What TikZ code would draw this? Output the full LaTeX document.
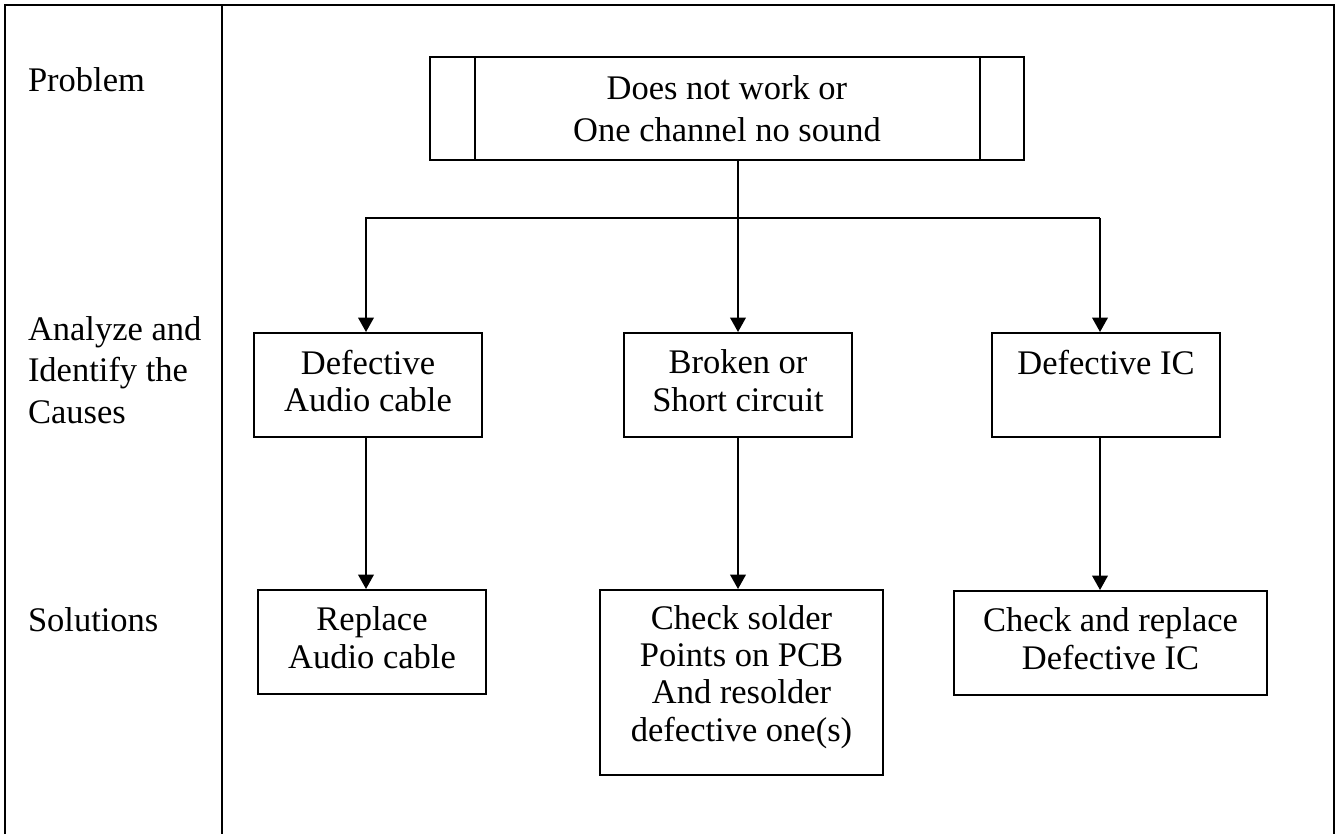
\documentclass[tikz,border=0pt]{standalone}
\usepackage{fontspec}
\setmainfont{Liberation Serif}
\usetikzlibrary{arrows.meta}
\newcommand{\pxu}{0.3478pt}

\begin{document}
\begin{tikzpicture}[x=\pxu, y=-\pxu, line width=0.7pt,
    >={Triangle[length=5pt, width=5.4pt]},
    font=\fontsize{12}{12.9}\selectfont,
    box/.style = {draw, align=center, inner sep=0pt, text depth=3.1pt},
    rowname/.style = {anchor=base west, align=left, inner sep=0pt, font=\fontsize{12}{14.4}\selectfont}]
    \useasboundingbox (0,0) rectangle (1340,834);

    % frame and column line
    \draw (5,834) -- (5,5) -- (1334,5) -- (1334,834);
    \draw (222,5) -- (222,834);

    \node[rowname] (lprob) at (27,91) {Problem};
    \node[rowname] (lcause) at (27,423) {Analyze and\\Identify the\\Causes};
    \node[rowname] (lsol) at (27,631) {Solutions};

    \node[box, text depth=0pt, font=\fontsize{12}{14.4}\selectfont, minimum width={594*\pxu}, minimum height={103*\pxu}] (prob) at (727,108.5) {Does not work or\\One channel no sound};
    \draw ([xshift={46*\pxu}]prob.north west) -- ([xshift={46*\pxu}]prob.south west);
    \draw ([xshift={-45*\pxu}]prob.north east) -- ([xshift={-45*\pxu}]prob.south east);

    \node[box, minimum width={228*\pxu}, minimum height={104*\pxu}] (cause1) at (368,385) {Defective\\Audio cable};
    \node[box, minimum width={228*\pxu}, minimum height={104*\pxu}] (cause2) at (738,385) {Broken or\\Short circuit};
    \node[box, minimum width={228*\pxu}, minimum height={104*\pxu}] (cause3) at (1106,385) {Defective IC\\~};

    \node[box, minimum width={228*\pxu}, minimum height={104*\pxu}] (sol1) at (372,642) {Replace\\Audio cable};
    \node[box, text depth=6.3pt, minimum width={283*\pxu}, minimum height={185*\pxu}] (sol2) at (741.5,682.5) {Check solder\\Points on PCB\\And resolder\\defective one(s)};
    \node[box, minimum width={313*\pxu}, minimum height={104*\pxu}] (sol3) at (1110.5,643) {Check and replace\\Defective IC};

    \coordinate (busl) at (366,218);
    \coordinate (busm) at (738,218);
    \coordinate (busr) at (1100,218);

    \draw (prob.south -| busm) -- (busm);
    \draw[->] (busr) -- (busl) -- (busl |- cause1.north);
    \draw[->] (busm) -- (busm |- cause2.north);
    \draw[->] (busr) -- (busr |- cause3.north);

    \draw[->] (cause1.south -| busl) -- (sol1.north -| busl);
    \draw[->] (cause2.south -| busm) -- (sol2.north -| busm);
    \draw[->] (cause3.south -| busr) -- (sol3.north -| busr);
\end{tikzpicture}
\end{document}
